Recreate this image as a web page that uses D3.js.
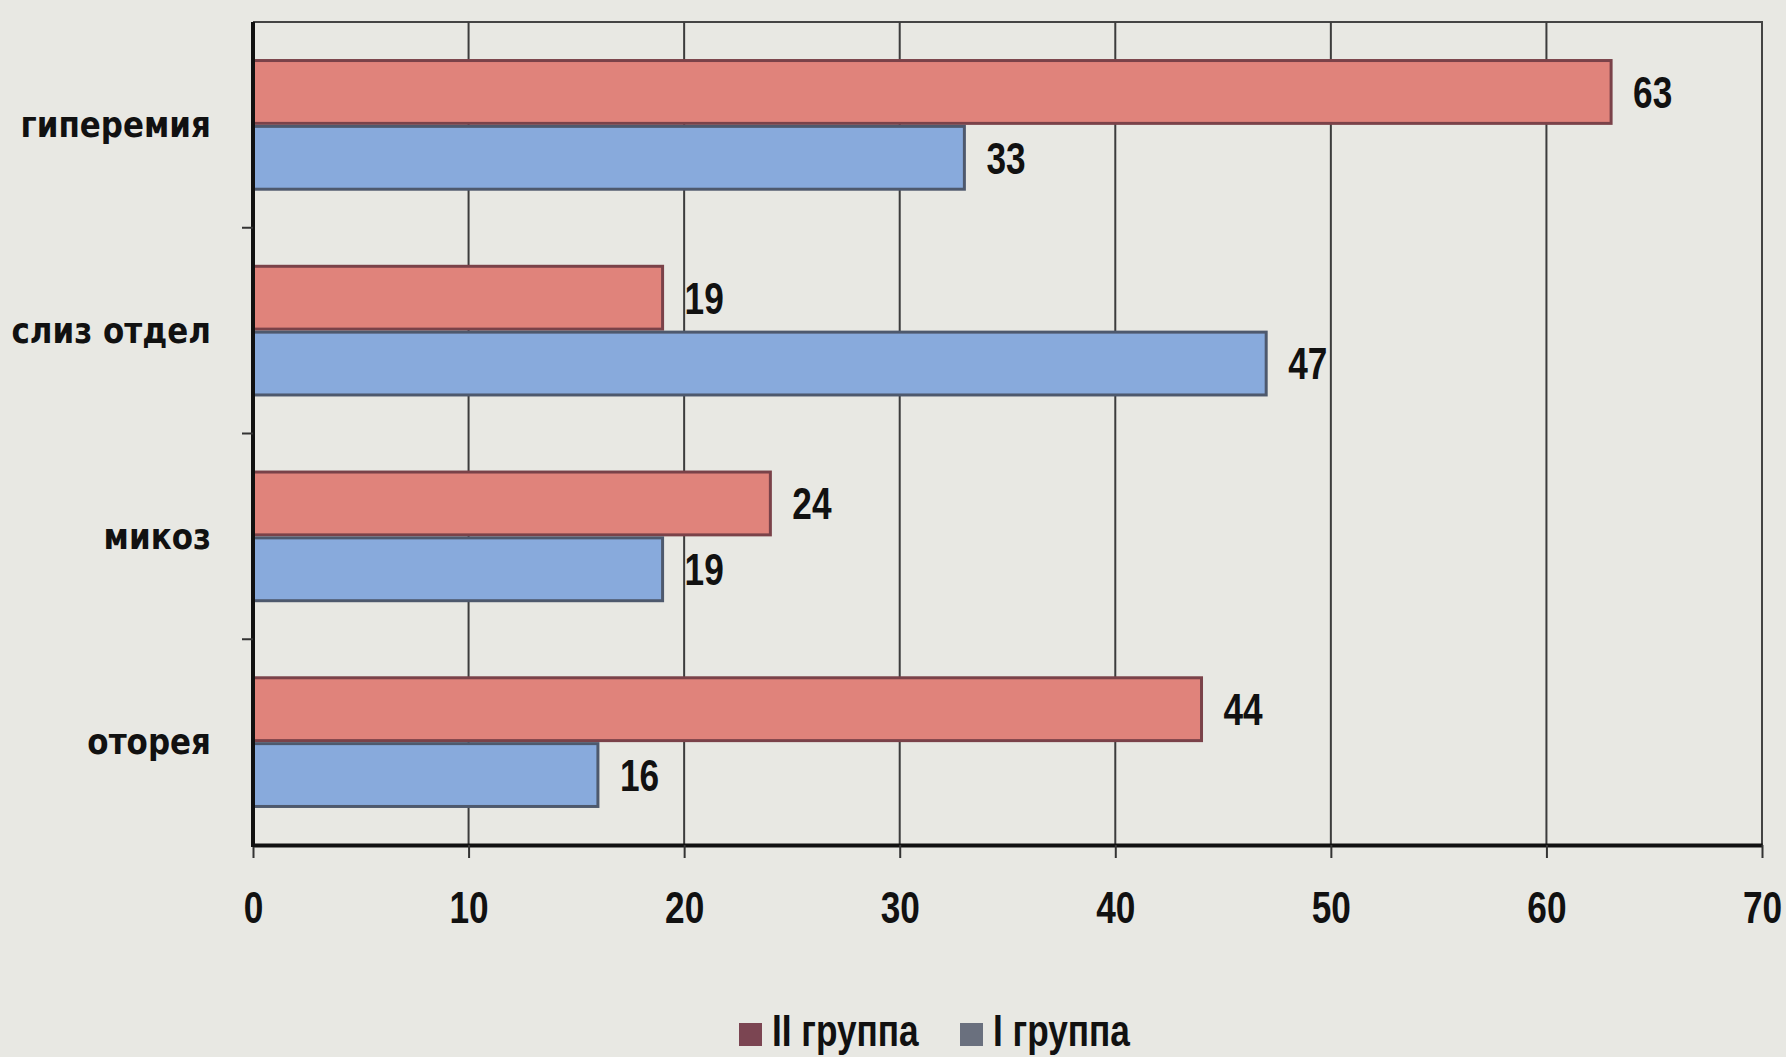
<!DOCTYPE html>
<html>
<head>
<meta charset="utf-8">
<script src="https://cdn.jsdelivr.net/npm/d3@7"></script>
<style>
  html, body { margin: 0; padding: 0; background: #e8e8e3; }
  svg { display: block; }
  .num { font-family: "Liberation Sans", Arial, sans-serif; font-weight: bold; font-size: 44px; fill: #111; }
  .cat { font-family: "DejaVu Sans", sans-serif; font-weight: bold; font-size: 31px; fill: #111; }
</style>
</head>
<body>
<svg id="chart" width="1786" height="1057"></svg>
<script>
// data
const categories = ["гиперемия", "слиз отдел", "микоз", "оторея"];
const groups = ["II группа", "I группа"];
const group2 = [63, 19, 24, 44];
const group1 = [33, 47, 19, 16];
const xTicks = [0, 10, 20, 30, 40, 50, 60, 70];

const colors = { "II группа": "#e0837b", "I группа": "#88aadc" };
const strokes = { "II группа": "#7a4249", "I группа": "#4e596d" };
const legendColors = { "II группа": "#7b4552", "I группа": "#6a707e" };

// condensed look: squeeze Liberation Sans Bold horizontally
const narrow = "scale(0.8,1)";

const svg = d3.select("#chart");
const plotLeft = 253, plotRight = 1762, plotTop = 22, plotBottom = 845;

const x = d3.scaleLinear().domain([0, 70]).range([plotLeft, plotRight]);
const y0 = d3.scaleBand().domain(categories).range([plotTop, plotBottom])
  .paddingInner(0.36).paddingOuter(0.18);
const y1 = d3.scaleBand().domain(groups).range([0, y0.bandwidth()]);

const rows = categories.map((c, i) => ({
  cat: c,
  vals: [
    { g: "II группа", v: group2[i] },
    { g: "I группа", v: group1[i] },
  ],
}));

// frame (top and right, thin)
svg.append("path")
  .attr("d", `M${plotLeft},${plotTop}H${plotRight}V${plotBottom}`)
  .attr("fill", "none")
  .attr("stroke", "#444")
  .attr("stroke-width", 2);

// vertical gridlines
svg.append("g")
  .selectAll("line")
  .data(xTicks.slice(1, -1))
  .join("line")
  .attr("x1", (d) => x(d))
  .attr("x2", (d) => x(d))
  .attr("y1", plotTop)
  .attr("y2", plotBottom)
  .attr("stroke", "#3c3c3c")
  .attr("stroke-width", 2);

// bars
const g = svg.append("g")
  .selectAll("g")
  .data(rows)
  .join("g")
  .attr("transform", (d) => `translate(0,${y0(d.cat)})`);

g.selectAll("rect")
  .data((d) => d.vals)
  .join("rect")
  .attr("x", x(0))
  .attr("y", (d) => y1(d.g) + 1.5)
  .attr("width", (d) => x(d.v) - x(0))
  .attr("height", y1.bandwidth() - 3)
  .attr("fill", (d) => colors[d.g])
  .attr("stroke", (d) => strokes[d.g])
  .attr("stroke-width", 3);

g.selectAll("text")
  .data((d) => d.vals)
  .join("text")
  .attr("class", "num")
  .attr("transform", (d) => `translate(${x(d.v) + 22},${y1(d.g) + y1.bandwidth() / 2}) ${narrow}`)
  .attr("dy", "0.36em")
  .text((d) => d.v);

// x axis
const xAxis = svg.append("g")
  .attr("transform", `translate(0,${plotBottom})`)
  .call(d3.axisBottom(x).tickValues(xTicks).tickSize(13).tickPadding(34).tickSizeOuter(0));
xAxis.select(".domain").attr("stroke", "#111").attr("stroke-width", 4);
xAxis.selectAll(".tick line").attr("stroke", "#333").attr("stroke-width", 2);
xAxis.selectAll(".tick text")
  .attr("class", "num")
  .attr("fill", null)
  .attr("transform", narrow);

// y axis: line plus ticks at band boundaries
const step = y0.step();
const boundaries = categories.slice(1).map((c) => y0(c) - y0.paddingInner() * step / 2);
const yAxis = svg.append("g");
yAxis.append("line")
  .attr("x1", plotLeft).attr("x2", plotLeft)
  .attr("y1", plotTop).attr("y2", plotBottom + 2)
  .attr("stroke", "#111").attr("stroke-width", 4);
yAxis.selectAll(".yt")
  .data(boundaries)
  .join("line")
  .attr("class", "yt")
  .attr("x1", plotLeft - 11).attr("x2", plotLeft)
  .attr("y1", (d) => d).attr("y2", (d) => d)
  .attr("stroke", "#333").attr("stroke-width", 2);
yAxis.selectAll("text")
  .data(categories)
  .join("text")
  .attr("class", "cat")
  .attr("text-anchor", "end")
  .attr("transform", (d) => `translate(${plotLeft - 42},${y0(d) + y0.bandwidth() / 2}) scale(1,1.12)`)
  .attr("dy", "0.35em")
  .text((d) => d);

// legend
const legendX = [739, 960];
const legend = svg.append("g")
  .selectAll("g")
  .data(groups)
  .join("g")
  .attr("transform", (d, i) => `translate(${legendX[i]},1023)`);
legend.append("rect")
  .attr("width", 23).attr("height", 23)
  .attr("fill", (d) => legendColors[d]);
legend.append("text")
  .attr("class", "num")
  .attr("transform", `translate(33,23) ${narrow}`)
  .text((d) => d);
</script>
</body>
</html>
